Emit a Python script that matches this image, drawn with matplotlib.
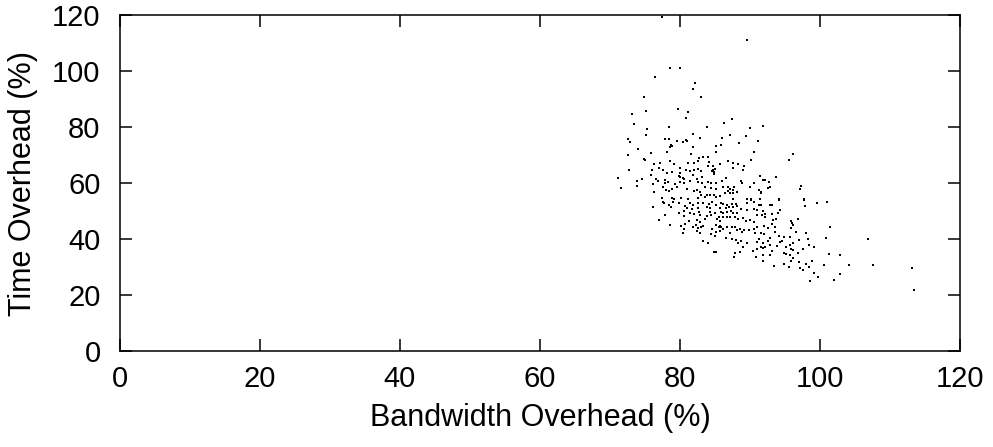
import matplotlib
matplotlib.use("Agg")
import matplotlib.pyplot as plt
import numpy as np

bandwidth = [
 77.4,78.6,80.0,76.4,82.2,81.9,74.8,83.0,79.7,89.5,
 79.7,75.1,73.1,81.1,80.8,73.4,78.4,75.3,83.8,75.1,81.8,72.6,72.9,77.8,78.4,82.9,80.8,80.4,81.0,79.6,
 78.5,78.9,78.7,81.9,74.0,78.2,85.1,85.1,72.6,75.8,74.9,75.0,81.5,83.3,84.0,82.7,78.5,79.2,81.1,82.0,
 82.6,84.1,76.3,77.1,84.0,84.7,72.7,76.0,77.0,77.5,80.0,80.9,81.4,82.0,82.5,83.0,84.7,85.0,84.6,84.8,
 71.1,73.8,74.5,75.8,76.5,77.9,78.1,78.8,79.8,80.0,80.4,80.0,80.6,81.9,82.4,83.1,84.8,76.9,76.2,77.8,
 78.3,79.3,80.0,80.5,81.4,82.5,83.2,84.0,84.4,85.2,71.6,73.9,76.3,77.5,78.0,78.4,78.9,79.5,81.0,82.0,
 82.4,82.9,83.6,84.4,85.2,77.4,78.8,79.2,80.2,81.2,82.5,83.0,83.5,83.8,84.3,84.9,85.2,
 77.5,77.7,78.4,79.0,79.8,80.7,81.4,81.9,82.6,83.3,84.1,84.6,85.2,76.2,78.7,81.0,81.7,82.5,83.8,84.3,
 85.7,79.9,80.6,81.4,82.0,82.7,82.9,84.3,84.4,85.0,77.8,80.5,83.8,85.5,77.0,81.3,82.4,82.9,83.6,85.3,
 85.7,78.6,80.1,80.7,81.9,82.3,82.5,83.0,83.3,84.5,85.1,85.5,80.6,80.4,82.4,82.8,84.4,85.2,85.7,85.0,
 83.3,84.0,84.9,85.1,
 87.4,86.3,91.9,90.0,87.2,89.4,86.0,91.1,88.4,85.9,90.6,96.1,95.5,90.1,85.7,86.9,87.5,88.3,87.6,89.2,
 89.0,93.7,91.4,91.8,92.2,92.7,86.0,86.6,88.7,88.8,90.6,86.1,86.9,87.7,87.1,87.5,86.8,86.4,87.1,87.6,
 88.1,90.0,91.3,91.5,91.6,92.6,92.8,97.2,97.3,85.7,87.6,89.5,90.1,91.4,94.2,97.7,
 85.9,86.2,86.7,87.4,88.0,86.5,87.0,87.6,88.1,89.5,90.1,90.6,91.3,91.6,92.9,93.1,94.1,97.7,97.8,99.6,
 101.0,85.9,86.2,86.7,87.3,87.6,88.1,88.7,89.5,90.5,91.0,91.9,92.2,93.1,94.0,94.3,86.1,86.7,87.1,87.9,
 88.3,89.0,89.4,90.0,90.5,91.0,91.7,92.1,93.3,93.7,95.9,96.8,85.7,85.9,86.2,86.7,87.4,87.9,88.5,88.8,
 89.2,89.9,90.5,91.0,92.0,92.5,93.2,93.6,96.0,95.8,96.2,87.1,88.1,90.7,91.5,92.0,93.6,94.1,94.9,95.7,
 96.6,98.0,101.4,86.5,87.4,88.0,88.3,88.7,89.5,91.0,91.3,91.8,92.6,92.9,94.3,94.5,95.7,96.2,97.0,98.3,
 100.8,89.0,90.4,91.0,91.5,91.8,92.1,92.9,93.1,93.8,95.1,95.9,97.6,98.4,99.2,87.9,87.7,88.6,90.8,91.9,
 92.9,94.9,95.2,95.7,96.2,96.8,101.3,91.9,93.4,94.8,95.6,95.8,96.1,97.0,97.2,97.5,98.0,98.4,98.8,100.6,
 98.6,99.2,99.7,102.0,
 106.8,102.9,104.1,107.6,102.9,113.1,113.4,
]

time_overhead = [
 119.4,101.0,101.0,97.8,95.7,93.6,90.7,90.6,86.6,111.1,
 86.6,85.7,84.8,85.3,83.1,80.9,80.1,79.2,79.9,77.1,77.4,75.8,74.8,75.6,75.6,75.9,75.2,74.5,75.1,75.1,
 73.0,73.3,73.7,72.8,72.0,71.2,73.1,70.9,70.1,70.6,68.7,68.3,70.2,69.4,69.4,68.8,67.9,66.8,67.0,67.1,
 67.8,67.5,66.8,67.2,66.1,66.0,64.5,64.7,65.2,64.5,65.3,64.6,64.2,64.6,65.1,64.4,64.6,65.0,64.2,63.9,
 61.9,60.7,61.4,62.9,61.4,61.0,63.7,63.9,62.4,63.6,61.9,62.0,61.4,62.7,61.4,62.0,63.3,60.6,59.6,59.9,
 60.5,59.6,60.5,59.9,60.6,60.5,60.1,60.2,59.9,60.0,58.1,58.8,56.8,58.4,57.6,57.0,57.7,58.7,57.8,57.2,
 57.6,56.8,58.7,58.1,57.9,54.5,54.7,54.4,54.6,54.3,54.5,55.6,54.9,55.8,55.7,55.8,55.1,
 53.2,52.7,52.1,53.3,52.7,51.8,52.7,52.1,52.7,53.0,52.5,53.2,52.1,51.3,51.5,51.0,50.6,51.0,51.3,51.0,
 51.0,49.4,50.1,49.2,48.9,49.6,48.5,49.6,48.6,49.2,48.5,48.2,48.2,48.0,46.8,46.5,46.8,46.2,47.0,47.3,
 46.3,45.1,44.6,45.4,44.4,44.9,43.8,44.2,44.6,43.5,45.0,44.2,43.7,42.3,42.7,42.0,41.8,42.5,43.0,41.1,
 39.4,38.5,35.4,35.4,
 82.7,81.3,80.5,79.6,77.1,76.9,76.2,75.1,74.2,73.6,70.9,70.2,68.1,68.2,66.7,67.9,67.0,66.8,65.4,65.9,
 64.6,62.3,62.4,61.2,61.1,60.4,60.8,61.7,60.6,60.0,60.0,58.4,58.7,58.6,57.7,57.4,57.0,56.3,56.5,56.5,
 56.8,58.4,57.4,56.7,56.4,58.1,58.4,57.7,58.9,55.3,54.3,54.3,54.3,54.3,54.2,54.2,
 52.7,52.4,52.1,52.5,52.5,51.0,51.5,51.3,51.8,52.7,53.9,53.1,52.3,52.0,52.0,52.0,53.9,53.9,51.7,53.0,
 53.3,49.8,49.4,49.6,50.1,49.4,49.2,50.6,50.4,50.8,50.4,50.1,48.9,48.9,49.2,50.4,48.0,47.7,48.0,48.0,
 47.0,47.4,46.5,46.8,46.1,48.5,48.7,48.0,46.8,47.0,46.5,47.0,44.6,44.2,43.5,44.2,44.4,44.2,43.6,42.6,
 43.2,43.2,43.5,44.2,44.6,43.8,45.4,44.2,45.8,43.8,45.0,42.3,43.2,42.3,42.0,41.7,42.6,41.1,40.8,40.8,
 42.4,42.0,44.2,40.2,39.9,39.6,38.7,39.4,38.7,39.0,39.9,38.5,39.4,40.2,39.0,39.4,37.9,38.5,39.6,39.9,
 40.2,37.3,35.7,36.5,37.3,36.7,37.0,37.9,35.8,37.5,37.0,36.3,36.3,37.9,37.1,34.9,33.7,35.5,33.7,34.3,
 34.3,35.1,34.6,34.3,36.1,34.9,34.5,32.2,30.4,31.1,30.1,32.3,33.1,31.9,29.5,28.9,31.1,30.1,32.3,30.7,
 25.0,27.7,26.5,25.4,
 39.9,34.2,30.6,30.6,27.5,29.6,21.7,
]

x_ticks = [0, 20, 40, 60, 80, 100, 120]
y_ticks = [0, 20, 40, 60, 80, 100, 120]
x_label = "Bandwidth Overhead (%)"
y_label = "Time Overhead (%)"

plt.rcParams['font.family'] = ['Liberation Sans', 'DejaVu Sans']

fig = plt.figure(figsize=(9.93, 4.47), dpi=100)
ax = fig.add_axes([120/993, 1-351/447, 840/993, 336/447])

ax.scatter(bandwidth, time_overhead, s=3.5, c='black', marker='s', linewidths=0)

ax.set_xlim(0, 120)
ax.set_ylim(0, 120)
ax.set_xticks(x_ticks)
ax.set_yticks(y_ticks)
ax.tick_params(direction='in', length=8.5, width=1.1, top=True, right=True,
               labelsize=21)
ax.tick_params(axis='x', pad=10)
ax.tick_params(axis='y', pad=14)
for s in ax.spines.values():
    s.set_linewidth(1.1)
ax.set_xlabel(x_label, fontsize=22, labelpad=7)
ax.set_ylabel(y_label, fontsize=22, labelpad=10)

fig.savefig("out.png", dpi=100)
